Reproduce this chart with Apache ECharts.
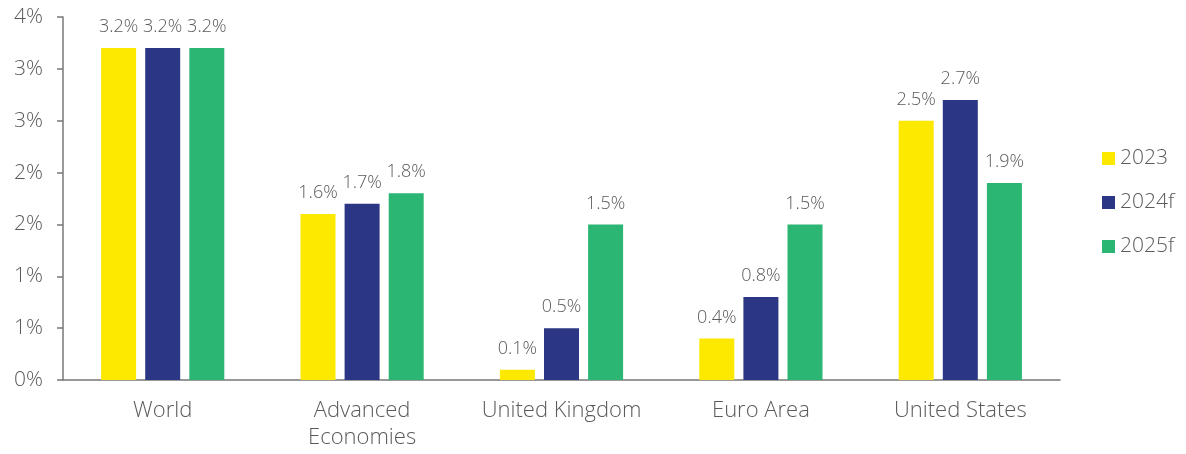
<!DOCTYPE html>
<html>
<head>
<meta charset="utf-8">
<script src="https://cdn.jsdelivr.net/npm/echarts@6/dist/echarts.min.js"></script>
<style>
  html, body { margin: 0; padding: 0; background: #fff; }
  #chart { width: 1186px; height: 454px; }
</style>
</head>
<body>
<div id="chart"></div>
<script>
const categories = ['World', 'Advanced\nEconomies', 'United Kingdom', 'Euro Area', 'United States'];
const seriesNames = ['2023', '2024f', '2025f'];
const values2023 = [3.2, 1.6, 0.1, 0.4, 2.5];
const values2024 = [3.2, 1.7, 0.5, 0.8, 2.7];
const values2025 = [3.2, 1.8, 1.5, 1.5, 1.9];
const colors = ['#FDE800', '#2B3784', '#2BB673'];

const font = '"Open Sans", Lato, sans-serif';
const textColor = '#5a5a5a';

const myChart = echarts.init(document.getElementById('chart'));

function makeSeries(name, data, color) {
    return {
        name: name,
        type: 'bar',
        data: data,
        barWidth: 35,
        barGap: '26%',
        itemStyle: { color: color },
        label: {
            show: true,
            position: 'top',
            distance: 12,
            color: textColor,
            fontFamily: font,
            fontWeight: 300,
            fontSize: 18,
            formatter: function (p) { return p.value.toFixed(1) + '%'; }
        }
    };
}

const option = {
    backgroundColor: '#ffffff',
    animation: false,
    color: colors,
    grid: { left: 63, right: 126, top: 17, bottom: 74 },
    legend: {
        orient: 'vertical',
        left: 1097,
        top: 143,
        itemWidth: 13,
        itemHeight: 13,
        itemGap: 23,
        icon: 'rect',
        data: seriesNames,
        textStyle: { color: textColor, fontFamily: font, fontWeight: 300, fontSize: 21 }
    },
    xAxis: {
        type: 'category',
        data: categories,
        axisLine: { lineStyle: { color: '#777', width: 1.5 } },
        axisTick: { show: false },
        axisLabel: {
            interval: 0,
            color: textColor,
            fontFamily: font,
            fontWeight: 300,
            fontSize: 22,
            margin: 17,
            lineHeight: 27
        }
    },
    yAxis: {
        type: 'value',
        min: 0,
        max: 3.5,
        interval: 0.5,
        splitLine: { show: false },
        axisLine: { show: true, lineStyle: { color: '#777', width: 1.5 } },
        axisTick: { show: true, length: 6, lineStyle: { color: '#777', width: 1.5 } },
        axisLabel: {
            color: textColor,
            fontFamily: font,
            fontWeight: 300,
            fontSize: 21,
            margin: 20,
            formatter: function (v) { return Math.round(v) + '%'; }
        }
    },
    series: [
        makeSeries(seriesNames[0], values2023, colors[0]),
        makeSeries(seriesNames[1], values2024, colors[1]),
        makeSeries(seriesNames[2], values2025, colors[2])
    ]
};

myChart.setOption(option);
window.onresize = myChart.resize;
</script>
</body>
</html>
